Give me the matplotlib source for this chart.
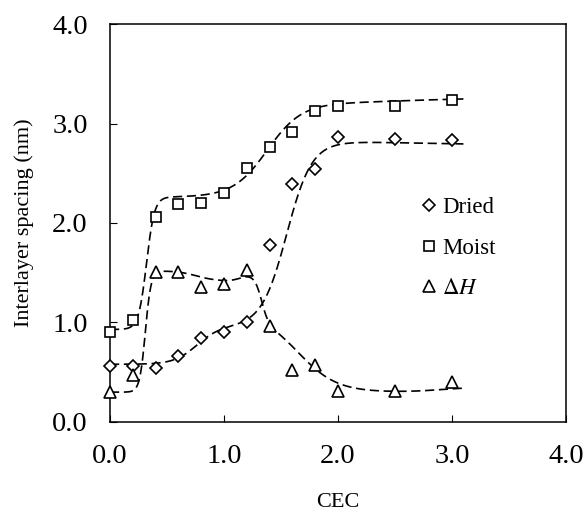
"""Interlayer spacing versus CEC with fitted step curves."""

import matplotlib

matplotlib.use("Agg")
import matplotlib.pyplot as plt
import numpy as np
from matplotlib.lines import Line2D

CEC = [0.0, 0.2, 0.4, 0.6, 0.8, 1.0, 1.2, 1.4, 1.6, 1.8, 2.0, 2.5, 3.0]
DRIED = [0.56, 0.56, 0.54, 0.66, 0.84, 0.90, 1.01, 1.78, 2.39, 2.54, 2.86, 2.84, 2.83]
MOIST = [0.90, 1.03, 2.06, 2.19, 2.20, 2.30, 2.55, 2.76, 2.91, 3.13, 3.18, 3.18, 3.24]
DELTA_H = [0.30, 0.47, 1.51, 1.51, 1.36, 1.39, 1.53, 0.96, 0.52, 0.57, 0.31, 0.31, 0.40]

# fitted curves: base level plus logistic steps (centre, height, width)
FIT_RANGE = (0.0, 3.1)
DRIED_FIT = (0.58, [(0.76, 0.38, 0.10), (1.55, 1.86, 0.11), (2.6, -0.03, 0.3)])
MOIST_FIT = (0.93, [(0.32, 1.33, 0.035), (1.38, 0.94, 0.15), (2.6, 0.06, 0.4)])
DELTA_H_FIT = (0.30, [(0.31, 1.22, 0.025), (0.75, -0.09, 0.08), (1.15, 0.12, 0.05),
                      (1.33, -0.45, 0.03), (1.65, -0.80, 0.17), (2.9, 0.05, 0.15)])

LABELS = ["Dried", "Moist", r"$\Delta H$"]
MARKERS = ["D", "s", "^"]


def step_curve(x, fit):
    base, steps = fit
    y = np.full_like(x, base)
    for centre, height, width in steps:
        y += height / (1.0 + np.exp(-(x - centre) / width))
    return y


def main() -> None:
    plt.rcParams["font.family"] = ["Liberation Serif", "DejaVu Serif"]
    plt.rcParams["mathtext.fontset"] = "stix"

    fig = plt.figure(figsize=(5.84, 5.14), dpi=100)
    ax = fig.add_axes([0.1884, 0.179, 0.7808, 0.7743])

    x_fit = np.linspace(*FIT_RANGE, 400)
    series = [DRIED, MOIST, DELTA_H]
    fits = [DRIED_FIT, MOIST_FIT, DELTA_H_FIT]
    sizes = [6.5, 7.0, 9.0]
    for values, fit, marker, size in zip(series, fits, MARKERS, sizes):
        ax.plot(x_fit, step_curve(x_fit, fit), color="black", linewidth=1.2,
                dashes=(5.5, 2.8))
        ax.plot(CEC, values, linestyle="none", marker=marker, markersize=size,
                markerfacecolor="white", markeredgecolor="black",
                markeredgewidth=1.2, clip_on=False, zorder=3)

    ax.set_xlim(0, 4)
    ax.set_ylim(0, 4)
    ticks = np.arange(0, 4.1, 1.0)
    ax.set_xticks(ticks)
    ax.set_yticks(ticks)
    ax.set_xticklabels([f"{t:.1f}" for t in ticks])
    ax.set_yticklabels([f"{t:.1f}" for t in ticks])
    ax.tick_params(direction="in", length=5, width=0.8, labelsize=20.5)
    ax.tick_params(axis="y", pad=16)
    ax.tick_params(axis="x", pad=16)
    for spine in ax.spines.values():
        spine.set_linewidth(1.1)

    ax.set_xlabel("CEC", fontsize=16, labelpad=17)
    ax.set_ylabel("Interlayer spacing (nm)", fontsize=16, labelpad=13)

    handles = [
        Line2D([], [], linestyle="none", marker=m, markersize=s,
               markerfacecolor="white", markeredgecolor="black", markeredgewidth=1.2)
        for m, s in zip(MARKERS, sizes)
    ]
    ax.legend(handles, LABELS, loc="center left", bbox_to_anchor=(0.64, 0.437),
              frameon=False, fontsize=16.5, handlelength=0.6, handletextpad=0.25,
              labelspacing=0.85)

    fig.savefig("out.png", dpi=100)
    plt.close(fig)


if __name__ == "__main__":
    main()
